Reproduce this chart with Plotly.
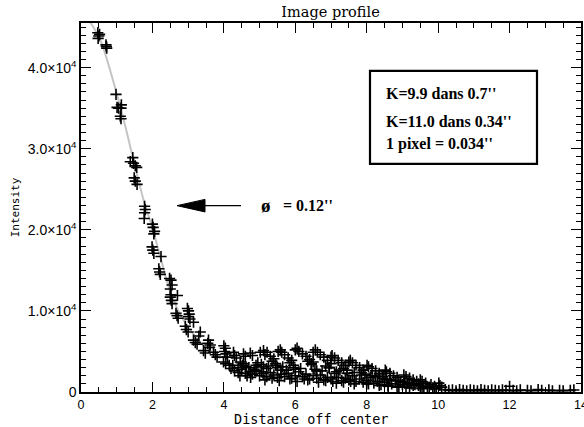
import plotly.graph_objects as go

# ---- data ----
fit_x = [0.20, 0.54, 1.10, 1.47, 1.75, 1.99, 2.25, 2.50, 2.87, 3.34, 3.90]
fit_y = [46000, 43420, 35190, 28600, 23700, 20370, 16200, 12350, 8850, 6170, 4120]

pts_x = [
    0.47, 0.50, 0.52, 0.48, 0.70, 0.72, 0.71,
    0.98, 1.01, 1.05, 1.13, 1.12, 1.10, 1.12,
    1.38, 1.45, 1.47, 1.52, 1.56, 1.49, 1.52, 1.57,
    1.78, 1.80, 1.78, 1.77,
    2.00, 2.02, 2.06, 2.04, 1.99, 2.01, 2.04, 2.24, 2.18, 2.20, 2.22,
    2.48, 2.52, 2.55, 2.50, 2.52, 2.50, 2.55, 2.53, 2.70, 2.66, 2.69, 2.72,
    2.98, 3.01, 3.03, 3.01, 3.05, 3.15, 2.92, 2.95, 3.00, 3.34, 3.30, 3.15, 3.20, 3.25,
    3.57, 3.55, 3.62, 3.60, 3.43, 3.48, 3.71, 3.81, 3.76,
    4.00, 4.04, 4.02, 4.06, 4.10, 3.99, 4.05, 4.15, 4.27, 4.30, 4.35,
    4.46, 4.55, 4.60, 4.62, 4.74, 4.80, 4.74, 4.52, 4.70, 4.85, 4.90,
    5.02, 5.11, 5.21, 5.15, 5.11, 5.20, 5.30, 5.40, 5.05,
    5.58, 5.52, 5.62, 5.70, 5.80, 5.90, 5.50, 5.60,
    6.05, 6.00, 6.10, 6.20, 6.30, 6.40, 6.50, 6.00, 6.10,
    6.56, 6.50, 6.62, 6.70, 6.80, 6.90, 7.00, 6.60,
    7.03, 7.00, 7.10, 7.20, 7.30, 7.40, 7.10,
    7.54, 7.50, 7.60, 7.70, 7.80, 7.90, 7.60,
    8.01, 8.05, 8.15, 8.25, 8.35, 8.10,
    8.52, 8.55, 8.65, 8.75, 8.85,
    9.04, 9.10, 9.20, 9.30, 9.40,
    9.50, 9.55, 9.65, 9.80,
    10.02, 10.05, 10.10,
    4.2, 4.3, 4.4, 4.5, 4.6, 4.8, 4.9, 5.0, 5.1, 5.2, 5.3, 5.4, 5.5, 5.6, 5.7, 5.8,
    5.9, 6.0, 6.2, 6.3, 6.4, 6.5, 6.6, 6.7, 6.8, 6.9, 7.0, 7.2, 7.3, 7.4, 7.5, 7.7,
    7.8, 7.9, 8.0, 8.2, 8.3, 8.4, 8.5, 8.6, 8.7, 8.9, 9.0, 9.1, 9.3, 9.5, 9.7, 9.9,
    4.25, 4.40, 4.55, 4.65, 4.95, 5.05, 5.25, 5.35, 5.45, 5.65, 5.75, 5.95, 6.15,
    6.25, 6.45, 6.55, 6.75, 6.95, 7.05, 7.15, 7.25, 7.45, 7.55, 7.65, 7.85, 7.95,
    8.05, 8.15, 8.25, 8.45, 8.55, 8.65, 8.80, 8.95, 9.05, 9.15, 9.25, 9.35, 9.45,
    9.60, 9.75, 9.85, 9.95,
    5.35, 5.45, 5.85, 5.95, 6.35, 6.45, 6.85, 6.95, 7.35, 7.45, 7.85, 8.35, 8.45,
    8.90, 9.45, 9.90,
    4.45, 4.75, 5.15, 5.55, 5.85, 6.05, 6.35, 6.65, 6.85, 7.15, 7.35, 7.65, 8.00,
    8.35, 8.60, 8.85, 9.20, 9.55,
    10.2, 10.3, 10.4, 10.5, 10.6, 10.7, 10.8, 10.9, 11.0, 11.1, 11.2, 11.3, 11.4,
    11.5, 11.6, 11.7, 11.8, 11.9, 12.0, 12.1, 12.2, 12.3, 12.5, 12.6, 12.8, 12.9,
    13.1, 13.2, 13.4, 13.5, 13.7, 13.8,
]
pts_y = [
    44300, 43900, 44100, 43600, 42800, 42400, 42600,
    36700, 35100, 35000, 35400, 35000, 34000, 33700,
    28400, 28900, 28200, 27900, 27700, 26400, 26000, 25600,
    22900, 22500, 22100, 21400,
    20700, 20300, 19800, 19500, 17900, 17500, 17100, 16700, 15200, 14800, 14500,
    14000, 13800, 13200, 12700, 12000, 11700, 10900, 11300, 11900, 9700, 9400, 9100,
    10300, 10000, 9600, 9300, 9000, 8600, 8100, 7700, 7400, 7400, 6900, 6400, 6100, 5900,
    6400, 6000, 5800, 5500, 5100, 4800, 4900, 4300, 4600,
    5700, 5400, 5000, 4700, 4300, 3700, 3500, 3300, 4900, 4500, 4200,
    3700, 4700, 4400, 3100, 4800, 4500, 2500, 3300, 3000, 2800, 3300,
    4900, 5100, 4900, 4600, 3100, 2900, 4400, 4100, 2500,
    5200, 5000, 4900, 4600, 4200, 3900, 3000, 2700,
    5400, 5200, 5000, 4700, 4400, 4000, 3700, 2800, 2500,
    5200, 4900, 4900, 4600, 4300, 3900, 3500, 2600,
    4500, 4300, 4200, 3900, 3600, 3300, 2300,
    3900, 3700, 3600, 3300, 3000, 2700, 2000,
    3300, 3100, 2900, 2600, 2300, 1800,
    2700, 2500, 2300, 2000, 1800,
    2100, 1900, 1700, 1500, 1300,
    1500, 1300, 1100, 900,
    1100, 800, 600,
    2900, 2600, 2400, 2800, 2300, 2200, 2600, 2000, 2300, 1900, 2400, 2100, 1800, 2200, 1900, 2300,
    1700, 2000, 1900, 2200, 1600, 2000, 1700, 2100, 1500, 1800, 1600, 1800, 1400, 1700, 1500, 1300,
    1600, 1200, 1400, 1100, 1300, 900, 1200, 800, 1000, 700, 900, 600, 800, 500, 600, 400,
    3300, 3000, 3500, 2000, 3600, 3400, 3200, 1700, 3300, 3100, 2700, 3000, 2900,
    1600, 3400, 2800, 2600, 3000, 1300, 2500, 2700, 2300, 1300, 2400, 2100, 2200,
    1000, 2000, 1900, 1700, 1600, 1500, 1400, 1300, 1200, 1100, 1000, 900, 800,
    700, 600, 500, 400,
    3800, 3500, 3600, 3300, 3800, 3500, 3200, 3000, 2900, 2700, 2400, 2100, 1900,
    1400, 1000, 700,
    2000, 1800, 1500, 1400, 1600, 1300, 1500, 1200, 1400, 1100, 1200, 1000, 1000,
    800, 700, 600, 500, 400,
    300, 200, 250, 150, 300, 200, 150, 250, 200, 150, 300, 200, 150,
    250, 200, 150, 250, 200, 700, 200, 150, 250, 200, 150, 300, 200,
    250, 150, 200, 150, 200, 250,
]

x_tickvals = [0, 2, 4, 6, 8, 10, 12, 14]
x_ticktext = ["0", "2", "4", "6", "8", "10", "12", "14"]
y_tickvals = [0, 10000, 20000, 30000, 40000]
y_ticktext = ["0", "1.0×10<sup>4</sup>", "2.0×10<sup>4</sup>",
              "3.0×10<sup>4</sup>", "4.0×10<sup>4</sup>"]

fig = go.Figure()
fig.add_trace(go.Scatter(
    x=fit_x, y=fit_y, mode="lines",
    line=dict(color="#c4c4c4", width=2, shape="spline", smoothing=0.8),
    showlegend=False, hoverinfo="skip"))
fig.add_trace(go.Scatter(
    x=pts_x, y=pts_y, mode="markers",
    marker=dict(symbol="cross-thin", size=8, color="black",
                line=dict(color="black", width=1.6)),
    showlegend=False, cliponaxis=True))

axis_common = dict(
    showline=True, linecolor="black", linewidth=1.5, mirror="allticks",
    ticks="inside", ticklen=10, tickwidth=1, tickcolor="black",
    showgrid=False, zeroline=False, ticklabeloverflow="allow", automargin=False,
)

fig.update_xaxes(
    range=[0, 14], tickvals=x_tickvals, ticktext=x_ticktext,
    tickfont=dict(family="Liberation Sans", size=12.5, color="black"),
    minor=dict(dtick=0.5, ticks="inside", ticklen=5, tickcolor="black", showgrid=False),
    **axis_common)
fig.update_yaxes(
    range=[0, 45500], tickvals=y_tickvals, ticktext=y_ticktext,
    tickfont=dict(family="Liberation Sans", size=14, color="black"),
    minor=dict(dtick=1000, ticks="inside", ticklen=5, tickcolor="black", showgrid=False),
    title=dict(text="Intensity",
               font=dict(family="DejaVu Sans Mono", size=11, color="black"),
               standoff=6),
    **axis_common)

box_font = dict(family="Liberation Serif", size=16, color="black")
fig.update_layout(
    width=584, height=427,
    margin=dict(l=81, r=3, t=23, b=35, autoexpand=False),
    paper_bgcolor="white", plot_bgcolor="white",
    title=dict(text="Image profile", x=0.566, xanchor="center", y=0.972, yanchor="middle",
               font=dict(family="DejaVu Serif", size=14.5, color="black")),
    shapes=[
        dict(type="rect", xref="paper", yref="paper",
             x0=0.578, x1=0.912, y0=0.618, y1=0.870,
             line=dict(color="black", width=2.2), fillcolor="rgba(0,0,0,0)"),
        dict(type="path", xref="paper", yref="paper",
             path="M 0.192 0.505 L 0.248 0.522 L 0.248 0.488 Z",
             fillcolor="black", line=dict(color="black", width=1)),
        dict(type="line", xref="paper", yref="paper",
             x0=0.248, x1=0.320, y0=0.505, y1=0.505,
             line=dict(color="black", width=1.3)),
    ],
    annotations=[
        dict(text="<b>K=9.9 dans 0.7''</b>", xref="paper", yref="paper",
             x=0.606, y=0.808, xanchor="left", yanchor="middle", showarrow=False, font=box_font),
        dict(text="<b>K=11.0 dans 0.34''</b>", xref="paper", yref="paper",
             x=0.606, y=0.734, xanchor="left", yanchor="middle", showarrow=False, font=box_font),
        dict(text="<b>1 pixel = 0.034''</b>", xref="paper", yref="paper",
             x=0.606, y=0.672, xanchor="left", yanchor="middle", showarrow=False, font=box_font),
        dict(text="<b>ø</b>", xref="paper", yref="paper",
             x=0.356, y=0.505, xanchor="left", yanchor="middle", showarrow=False,
             font=dict(family="Liberation Serif", size=19, color="black")),
        dict(text="<b>= 0.12''</b>", xref="paper", yref="paper",
             x=0.400, y=0.505, xanchor="left", yanchor="middle", showarrow=False, font=box_font),
        dict(text="Distance off center", xref="paper", yref="paper",
             x=0.46, y=-0.072, xanchor="center", yanchor="middle", showarrow=False,
             font=dict(family="DejaVu Sans Mono", size=13.5, color="black")),
    ],
)

fig.write_html("out.html")
